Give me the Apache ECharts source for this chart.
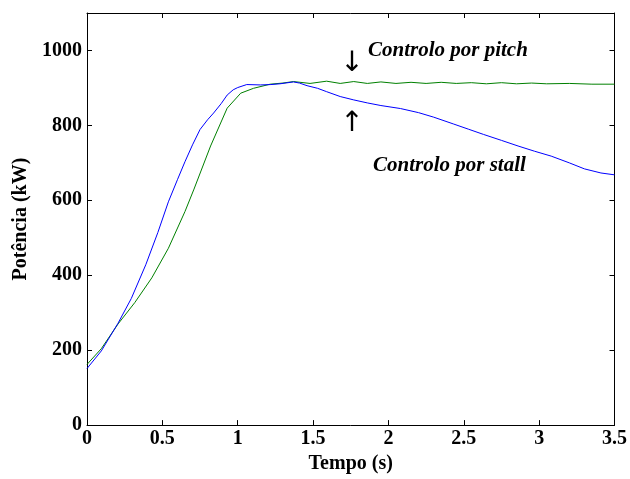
<!DOCTYPE html>
<html>
<head>
<meta charset="utf-8">
<script src="https://cdn.jsdelivr.net/npm/echarts@6/dist/echarts.min.js"></script>
<style>
  html, body { margin: 0; padding: 0; background: #fff; }
  #chart { width: 630px; height: 479px; }
</style>
</head>
<body>
<div id="chart"></div>
<script>
// stall-controlled turbine (blue)
const timeStall = [0, 0.095, 0.206, 0.294, 0.39, 0.47, 0.54, 0.60, 0.65, 0.70, 0.75, 0.80, 0.84, 0.89, 0.93, 0.97, 1.0, 1.06, 1.15, 1.22, 1.28, 1.37, 1.41, 1.46, 1.53, 1.59, 1.68, 1.77, 1.86, 1.95, 2.08, 2.2, 2.3, 2.43, 2.53, 2.63, 2.75, 2.86, 2.97, 3.08, 3.2, 3.30, 3.41, 3.5];
const powerStall = [151, 198, 272, 338, 428, 514, 596, 655, 703, 748, 789, 815, 833, 858, 881, 895, 901, 909, 908, 909, 911, 916, 913, 906, 899, 890, 877, 868, 860, 853, 845, 834, 822, 804, 790, 776, 760, 745, 731, 718, 700, 684, 673, 668];

// pitch-controlled turbine (green)
const timePitch = [0, 0.095, 0.206, 0.317, 0.43, 0.54, 0.65, 0.71, 0.82, 0.93, 1.02, 1.105, 1.216, 1.30, 1.37, 1.48, 1.59, 1.68, 1.77, 1.86, 1.95, 2.05, 2.15, 2.25, 2.35, 2.45, 2.55, 2.65, 2.75, 2.85, 2.95, 3.05, 3.2, 3.35, 3.5];
const powerPitch = [162, 204, 270, 327, 393, 472, 570, 630, 745, 846, 886, 899, 910, 913, 917, 912, 918, 912, 917, 912, 916, 912, 915, 912, 915, 912, 914, 911, 914, 911, 913, 911, 912, 910, 910];

const xTicks = ['0', '0.5', '1', '1.5', '2', '2.5', '3', '3.5'];
const yTicks = ['0', '200', '400', '600', '800', '1000'];

const font = 'Liberation Serif';
const zip = (xs, ys) => xs.map((x, i) => [x, ys[i]]);

const chart = echarts.init(document.getElementById('chart'));

const tickStyle = { show: true, inside: true, length: 5, lineStyle: { color: '#000', width: 1 } };
const axisLine = { show: true, onZero: false, lineStyle: { color: '#000', width: 1 } };
const labelStyle = { color: '#000', fontFamily: font, fontWeight: 'bold', fontSize: 20 };

chart.setOption({
  animation: false,
  backgroundColor: '#fff',
  grid: { left: 87, right: 15, top: 13, bottom: 50 },
  xAxis: [
    {
      type: 'value', min: 0, max: 3.5, interval: 0.5,
      axisLine, axisTick: tickStyle,
      splitLine: { show: false },
      axisLabel: Object.assign({ margin: 4, formatter: v => xTicks[Math.round(v / 0.5)] }, labelStyle),
      name: 'Tempo (s)', nameLocation: 'middle', nameGap: 27,
      nameTextStyle: labelStyle
    },
    {
      type: 'value', position: 'top', min: 0, max: 3.5, interval: 0.5,
      axisLine, axisTick: tickStyle,
      axisLabel: { show: false }, splitLine: { show: false }
    }
  ],
  yAxis: [
    {
      type: 'value', min: 0, max: 1100, interval: 200,
      axisLine, axisTick: tickStyle,
      splitLine: { show: false },
      axisLabel: Object.assign({
        margin: 5, showMaxLabel: false,
        formatter: v => (v <= 1000 ? yTicks[Math.round(v / 200)] : '')
      }, labelStyle),
      name: 'Potência (kW)', nameLocation: 'middle', nameGap: 54,
      nameTextStyle: labelStyle
    },
    {
      type: 'value', position: 'right', min: 0, max: 1100, interval: 200,
      axisLine, axisTick: tickStyle,
      axisLabel: { show: false }, splitLine: { show: false }
    }
  ],
  series: [
    {
      name: 'Controlo por pitch', type: 'line', showSymbol: false,
      data: zip(timePitch, powerPitch),
      lineStyle: { color: '#008000', width: 1 }
    },
    {
      name: 'Controlo por stall', type: 'line', showSymbol: false,
      data: zip(timeStall, powerStall),
      lineStyle: { color: '#0000ff', width: 1 }
    }
  ],
  graphic: [
    {
      type: 'text', x: 368, y: 51,
      style: { text: 'Controlo por pitch', fill: '#000', font: 'italic bold 21px "Liberation Serif"', verticalAlign: 'middle' }
    },
    {
      type: 'text', x: 373, y: 166,
      style: { text: 'Controlo por stall', fill: '#000', font: 'italic bold 21px "Liberation Serif"', verticalAlign: 'middle' }
    },
    {
      type: 'text', x: 352, y: 64,
      style: { text: '↓', fill: '#000', font: '28px "DejaVu Sans"', align: 'center', verticalAlign: 'middle' }
    },
    {
      type: 'text', x: 352, y: 124,
      style: { text: '↑', fill: '#000', font: '28px "DejaVu Sans"', align: 'center', verticalAlign: 'middle' }
    }
  ]
});
</script>
</body>
</html>
